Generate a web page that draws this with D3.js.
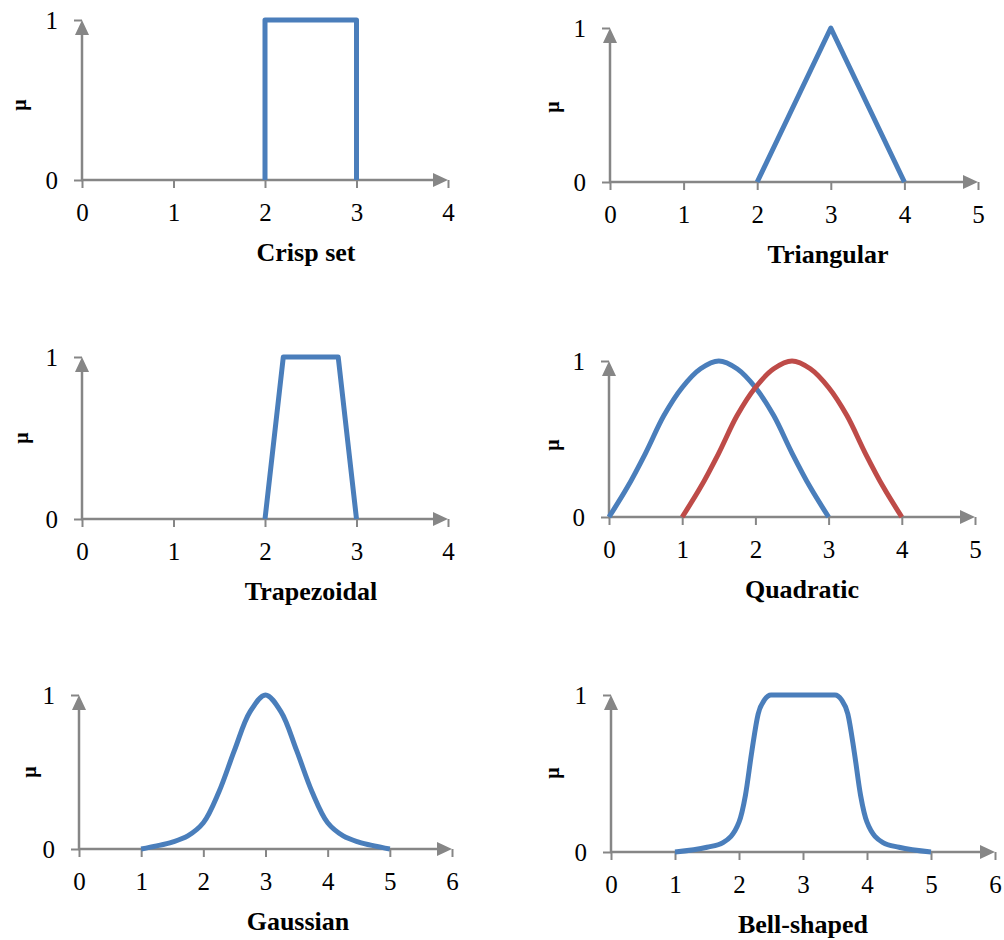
<!DOCTYPE html>
<html>
<head>
<meta charset="utf-8">
<script src="https://cdn.jsdelivr.net/npm/d3@7"></script>
<style>
  body { margin: 0; background: #fff; }
  text { font-family: "Liberation Serif", "Times New Roman", serif; fill: #000; }
</style>
</head>
<body>
<div id="chart"></div>
<script>
// membership function data
var crispX = [2, 2, 3, 3];
var crispY = [0, 1, 1, 0];

var triX = [2, 3, 4];
var triY = [0, 1, 0];

var trapX = [2, 2.2, 2.8, 3];
var trapY = [0, 1, 1, 0];

var quadBlueX = [0, 0.25, 0.5, 0.75, 1, 1.25, 1.5, 1.75, 2, 2.25, 2.5, 2.75, 3];
var quadBlueY = [0, 0.19, 0.41, 0.65, 0.83, 0.95, 1, 0.95, 0.83, 0.65, 0.41, 0.19, 0];
var quadRedX = [1, 1.25, 1.5, 1.75, 2, 2.25, 2.5, 2.75, 3, 3.25, 3.5, 3.75, 4];
var quadRedY = [0, 0.19, 0.41, 0.65, 0.83, 0.95, 1, 0.95, 0.83, 0.65, 0.41, 0.19, 0];

var gaussX = [1, 1.25, 1.5, 1.75, 2, 2.25, 2.5, 2.75, 3, 3.25, 3.5, 3.75, 4, 4.25, 4.5, 4.75, 5];
var gaussY = [0, 0.02, 0.045, 0.085, 0.17, 0.37, 0.64, 0.89, 1, 0.89, 0.64, 0.37, 0.17, 0.085, 0.045, 0.02, 0];

var bellX = [1, 1.5, 1.75, 2, 2.1, 2.2, 2.3, 2.4, 2.5, 3, 3.5, 3.6, 3.7, 3.8, 3.9, 4, 4.25, 4.5, 5];
var bellY = [0, 0.03, 0.06, 0.19, 0.36, 0.64, 0.88, 0.97, 1, 1, 1, 0.97, 0.88, 0.64, 0.36, 0.19, 0.06, 0.03, 0];

var titles = ["Crisp set", "Triangular", "Trapezoidal", "Quadratic", "Gaussian", "Bell-shaped"];
var xMaxes = [4, 5, 4, 5, 6, 6];
var yTicks = [0, 1];

var blue = "#4a7ebb", red = "#be4b48", grey = "#868686";

// where each small chart sits on the page
var layout = [
  {x0: 82,  x1: 448, yB: 180, yT: 20,  tx: 306, mx: 20,  my: 105},
  {x0: 610, x1: 978, yB: 182, yT: 28,  tx: 828, mx: 553, my: 107},
  {x0: 82,  x1: 448, yB: 519, yT: 357, tx: 311, mx: 22,  my: 438},
  {x0: 609, x1: 975, yB: 517, yT: 361, tx: 802, mx: 553, my: 445},
  {x0: 79,  x1: 452, yB: 849, yT: 695, tx: 298, mx: 30,  my: 772},
  {x0: 611, x1: 995, yB: 852, yT: 695, tx: 803, mx: 553, my: 773}
];

function zipPts(xs, ys) { return xs.map(function(v, i) { return [v, ys[i]]; }); }

var smooth = d3.curveCatmullRom.alpha(0.5);
var series = [
  [{pts: zipPts(crispX, crispY), color: blue, curve: d3.curveLinear}],
  [{pts: zipPts(triX, triY), color: blue, curve: d3.curveLinear}],
  [{pts: zipPts(trapX, trapY), color: blue, curve: d3.curveLinear}],
  [{pts: zipPts(quadBlueX, quadBlueY), color: blue, curve: smooth},
   {pts: zipPts(quadRedX, quadRedY), color: red, curve: smooth}],
  [{pts: zipPts(gaussX, gaussY), color: blue, curve: smooth}],
  [{pts: zipPts(bellX, bellY), color: blue, curve: d3.curveMonotoneX}]
];

var svg = d3.select("#chart").append("svg")
  .attr("width", 1004).attr("height", 940);

layout.forEach(function(L, k) {
  var x = d3.scaleLinear().domain([0, xMaxes[k]]).range([L.x0, L.x1]);
  var y = d3.scaleLinear().domain([0, 1]).range([L.yB, L.yT]);
  var g = svg.append("g");

  // x axis with ticks below, arrow at the end
  var xa = g.append("g").attr("transform", "translate(0," + L.yB + ")")
    .call(d3.axisBottom(x).tickValues(d3.range(0, xMaxes[k] + 1)).tickFormat(d3.format("d"))
      .tickSize(8).tickPadding(15));
  xa.select(".domain").remove();
  xa.selectAll("line").attr("stroke", grey).attr("stroke-width", 2);
  xa.selectAll("text").attr("font-size", 25).attr("font-family", "Liberation Serif").attr("fill", "#000");

  var ya = g.append("g").attr("transform", "translate(" + L.x0 + ",0)")
    .call(d3.axisLeft(y).tickValues(yTicks).tickFormat(d3.format("d")).tickSize(8).tickPadding(16));
  ya.select(".domain").remove();
  ya.selectAll("line").attr("stroke", grey).attr("stroke-width", 2);
  ya.selectAll("text").attr("font-size", 25).attr("font-family", "Liberation Serif").attr("fill", "#000");

  g.append("line").attr("x1", L.x0 - 1).attr("x2", L.x1 - 12).attr("y1", L.yB).attr("y2", L.yB)
    .attr("stroke", grey).attr("stroke-width", 2.5);
  g.append("path")
    .attr("d", "M" + L.x1 + "," + L.yB + "L" + (L.x1 - 15) + "," + (L.yB - 7) + "L" + (L.x1 - 15) + "," + (L.yB + 7) + "Z")
    .attr("fill", grey);
  g.append("line").attr("x1", L.x0).attr("x2", L.x0).attr("y1", L.yB + 1).attr("y2", L.yT + 12)
    .attr("stroke", grey).attr("stroke-width", 2.5);
  g.append("path")
    .attr("d", "M" + L.x0 + "," + L.yT + "L" + (L.x0 - 7) + "," + (L.yT + 15) + "L" + (L.x0 + 7) + "," + (L.yT + 15) + "Z")
    .attr("fill", grey);

  // the curves
  var line = d3.line().x(function(d) { return x(d[0]); }).y(function(d) { return y(d[1]); });
  series[k].forEach(function(s) {
    g.append("path").attr("d", line.curve(s.curve)(s.pts))
      .attr("fill", "none").attr("stroke", s.color).attr("stroke-width", 5)
      .attr("stroke-linejoin", "round");
  });

  g.append("text").attr("x", L.tx).attr("y", L.yB + 81)
    .attr("text-anchor", "middle").attr("font-size", 26).attr("font-weight", "bold")
    .text(titles[k]);

  g.append("text").attr("transform", "translate(" + (L.mx + 6) + "," + L.my + ") rotate(-90)")
    .attr("text-anchor", "middle").attr("font-size", 20).attr("font-weight", "bold")
    .text("μ");
});
</script>
</body>
</html>
